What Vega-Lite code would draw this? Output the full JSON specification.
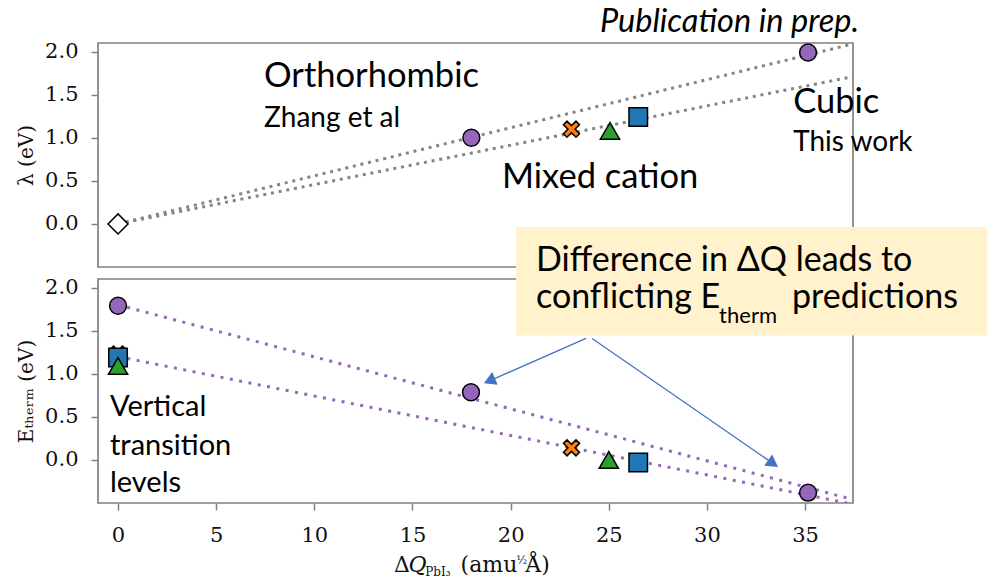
{
  "$schema": "https://vega.github.io/schema/vega-lite/v6.json",
  "autosize": {"type": "pad"},
  "padding": {"left": 15, "top": 4, "right": 0, "bottom": 1},
  "background": "white",
  "spacing": 12,
  "bounds": "flush",
  "config": {
    "view": {"stroke": "#808080", "strokeWidth": 1.7},
    "axis": {
      "labelFont": "DejaVu Serif", "labelFontSize": 21, "labelColor": "#111",
      "tickColor": "#808080", "tickWidth": 1.5, "tickSize": 7, "labelPadding": 13,
      "domain": false, "grid": false,
      "titleFont": "DejaVu Serif", "titleFontSize": 20, "titleFontWeight": "normal",
      "titleColor": "#111", "titlePadding": 8
    },
    "text": {"font": "Lato", "fill": "#000", "align": "left", "baseline": "alphabetic"}
  },
  "datasets": {
    "lam_pts": [
      {"kind": "PbI3", "q": 18.0, "v": 1.0},
      {"kind": "PbI3", "q": 35.15, "v": 1.99},
      {"kind": "mixed-X", "q": 23.1, "v": 1.10},
      {"kind": "mixed-square", "q": 26.5, "v": 1.24},
      {"kind": "mixed-triangle", "q": 25.06, "v": 1.08},
      {"kind": "origin", "q": 0, "v": 0}
    ],
    "eth_pts": [
      {"kind": "PbI3", "q": 0, "v": 1.79},
      {"kind": "PbI3", "q": 17.98, "v": 0.786},
      {"kind": "PbI3", "q": 35.15, "v": -0.38},
      {"kind": "mixed-X", "q": 0, "v": 1.23},
      {"kind": "mixed-X", "q": 23.1, "v": 0.14},
      {"kind": "mixed-square", "q": 0, "v": 1.19},
      {"kind": "mixed-square", "q": 26.5, "v": -0.03},
      {"kind": "mixed-triangle", "q": 0, "v": 1.09},
      {"kind": "mixed-triangle", "q": 25.0, "v": 0.0}
    ]
  },
  "vconcat": [
    {
      "width": 755, "height": 224,
      "encoding": {
        "x": {"field": "q", "type": "quantitative", "scale": {"domain": [-1.02, 37.44], "nice": false, "zero": false}, "axis": null},
        "y": {"field": "v", "type": "quantitative", "scale": {"domain": [-0.5, 2.1], "nice": false, "zero": false},
              "axis": {"values": [0, 0.5, 1, 1.5, 2], "format": ".1f", "title": "λ (eV)"}}
      },
      "layer": [
        {
          "data": {"values": [
            {"fit": "orthorhombic", "q": 0, "v": 0}, {"fit": "orthorhombic", "q": 37.44, "v": 2.09},
            {"fit": "cubic", "q": 0, "v": 0}, {"fit": "cubic", "q": 37.44, "v": 1.71}
          ]},
          "mark": {"type": "line", "color": "#858585", "strokeWidth": 3, "strokeDash": [3, 4.8], "clip": true},
          "encoding": {"detail": {"field": "fit"}}
        },
        {
          "data": {"name": "lam_pts"},
          "mark": {"type": "point", "filled": true, "stroke": "#000", "strokeWidth": 1.5, "opacity": 1},
          "encoding": {
            "shape": {"field": "kind", "type": "nominal", "legend": null, "scale": {
              "domain": ["PbI3", "mixed-X", "mixed-square", "mixed-triangle", "origin"],
              "range": ["circle", "M0.905,-0.509L0.396,0L0.905,0.509L0.509,0.905L0,0.396L-0.509,0.905L-0.905,0.509L-0.396,0L-0.905,-0.509L-0.509,-0.905L0,-0.396L0.509,-0.905Z", "square", "triangle-up", "diamond"]}},
            "fill": {"field": "kind", "type": "nominal", "legend": null, "scale": {
              "domain": ["PbI3", "mixed-X", "mixed-square", "mixed-triangle", "origin"],
              "range": ["#9467bd", "#ff7f0e", "#1f77b4", "#2ca02c", "#ffffff"]}},
            "size": {"field": "kind", "type": "ordinal", "legend": null, "scale": {
              "domain": ["PbI3", "mixed-X", "mixed-square", "mixed-triangle", "origin"],
              "range": [285, 400, 262, 300, 490]}}
          }
        },
        {
          "data": {"values": [
            {"label": "Orthorhombic", "q": 7.44, "v": 1.593},
            {"label": "Cubic", "q": 34.39, "v": 1.291},
            {"label": "Mixed cation", "q": 19.56, "v": 0.419}
          ]},
          "mark": {"type": "text", "fontSize": 34.5},
          "encoding": {"text": {"field": "label"}}
        },
        {
          "data": {"values": [
            {"label": "Zhang et al", "q": 7.44, "v": 1.128},
            {"label": "This work", "q": 34.39, "v": 0.849}
          ]},
          "mark": {"type": "text", "fontSize": 28},
          "encoding": {"text": {"field": "label"}}
        },
        {
          "data": {"values": [{"label": "Publication in prep.", "q": 24.55, "v": 2.233}]},
          "mark": {"type": "text", "fontSize": 32.5, "fontStyle": "italic"},
          "encoding": {"text": {"field": "label"}}
        }
      ]
    },
    {
      "width": 755, "height": 224,
      "encoding": {
        "x": {"field": "q", "type": "quantitative", "scale": {"domain": [-1.02, 37.44], "nice": false, "zero": false},
              "axis": {"values": [0, 5, 10, 15, 20, 25, 30, 35], "title": null, "labelPadding": 14}},
        "y": {"field": "v", "type": "quantitative", "scale": {"domain": [-0.5, 2.1], "nice": false, "zero": false},
              "axis": {"values": [0, 0.5, 1, 1.5, 2], "format": ".1f", "title": "Eₜₕₑᵣₘ (eV)"}}
      },
      "layer": [
        {
          "data": {"values": [
            {"fit": "orthorhombic", "q": 0, "v": 1.8}, {"fit": "orthorhombic", "q": 37.44, "v": -0.46},
            {"fit": "cubic", "q": 0, "v": 1.2}, {"fit": "cubic", "q": 37.44, "v": -0.515}
          ]},
          "mark": {"type": "line", "color": "#9467bd", "strokeWidth": 3, "strokeDash": [3, 6.5], "clip": true},
          "encoding": {"detail": {"field": "fit"}}
        },
        {
          "data": {"name": "eth_pts"},
          "mark": {"type": "point", "filled": true, "stroke": "#000", "strokeWidth": 1.5, "opacity": 1},
          "encoding": {
            "shape": {"field": "kind", "type": "nominal", "legend": null, "scale": {
              "domain": ["PbI3", "mixed-X", "mixed-square", "mixed-triangle", "origin"],
              "range": ["circle", "M0.905,-0.509L0.396,0L0.905,0.509L0.509,0.905L0,0.396L-0.509,0.905L-0.905,0.509L-0.396,0L-0.905,-0.509L-0.509,-0.905L0,-0.396L0.509,-0.905Z", "square", "triangle-up", "diamond"]}},
            "fill": {"field": "kind", "type": "nominal", "legend": null, "scale": {
              "domain": ["PbI3", "mixed-X", "mixed-square", "mixed-triangle", "origin"],
              "range": ["#9467bd", "#ff7f0e", "#1f77b4", "#2ca02c", "#ffffff"]}},
            "size": {"field": "kind", "type": "ordinal", "legend": null, "scale": {
              "domain": ["PbI3", "mixed-X", "mixed-square", "mixed-triangle", "origin"],
              "range": [285, 400, 262, 300, 490]}}
          }
        },
        {
          "data": {"values": [
            {"label": "Vertical", "q": -0.41, "v": 0.509},
            {"label": "transition", "q": -0.41, "v": 0.058},
            {"label": "levels", "q": -0.41, "v": -0.37}
          ]},
          "mark": {"type": "text", "fontSize": 29},
          "encoding": {"text": {"field": "label"}}
        },
        {
          "data": {"values": [{"q": 20.27, "v": 2.705, "q2": 44.27, "v2": 1.445}]},
          "mark": {"type": "rect", "fill": "#FFF2CC", "stroke": null},
          "encoding": {"x2": {"field": "q2"}, "y2": {"field": "v2"}}
        },
        {
          "data": {"values": [
            {"label": "Difference in ΔQ leads to", "q": 21.29, "v": 2.197},
            {"label": "conflicting E", "q": 21.29, "v": 1.769},
            {"label": "predictions", "q": 34.33, "v": 1.769}
          ]},
          "mark": {"type": "text", "fontSize": 34},
          "encoding": {"text": {"field": "label"}}
        },
        {
          "data": {"values": [{"label": "therm", "q": 30.62, "v": 1.595}]},
          "mark": {"type": "text", "fontSize": 22},
          "encoding": {"text": {"field": "label"}}
        },
        {
          "data": {"values": [
            {"arrow": "to orthorhombic", "q": 23.84, "v": 1.41, "q2": 18.92, "v2": 0.918},
            {"arrow": "to cubic", "q": 24.15, "v": 1.41, "q2": 33.37, "v2": -0.042}
          ]},
          "mark": {"type": "rule", "color": "#4472C4", "strokeWidth": 1.3},
          "encoding": {"x2": {"field": "q2"}, "y2": {"field": "v2"}}
        },
        {
          "data": {"values": [{"arrow": "to orthorhombic", "q": 18.92, "v": 0.918}]},
          "mark": {"type": "point", "shape": "triangle-up", "filled": true, "fill": "#4472C4", "opacity": 1, "size": 190, "angle": 246.2, "strokeWidth": 0},
          "encoding": {}
        },
        {
          "data": {"values": [{"arrow": "to cubic", "q": 33.37, "v": -0.042}]},
          "mark": {"type": "point", "shape": "triangle-up", "filled": true, "fill": "#4472C4", "opacity": 1, "size": 190, "angle": 124.7, "strokeWidth": 0},
          "encoding": {}
        },
        {
          "data": {"values": [
            {"label": "Δ", "q": 14.06, "v": -1.30},
            {"label": "(amu", "q": 17.45, "v": -1.30}
          ]},
          "mark": {"type": "text", "font": "DejaVu Serif", "fontSize": 22, "fill": "#111"},
          "encoding": {"text": {"field": "label"}}
        },
        {
          "data": {"values": [{"label": "Å)", "q": 20.75, "v": -1.30}]},
          "mark": {"type": "text", "font": "DejaVu Serif", "fontSize": 22, "fill": "#111"},
          "encoding": {"text": {"field": "label"}}
        },
        {
          "data": {"values": [{"label": "Q", "q": 14.8, "v": -1.30}]},
          "mark": {"type": "text", "font": "DejaVu Serif", "fontStyle": "italic", "fontSize": 22, "fill": "#111"},
          "encoding": {"text": {"field": "label"}}
        },
        {
          "data": {"values": [{"label": "PbI₃", "q": 15.65, "v": -1.345}]},
          "mark": {"type": "text", "font": "DejaVu Serif", "fontSize": 12, "fill": "#111"},
          "encoding": {"text": {"field": "label"}}
        },
        {
          "data": {"values": [{"label": "½", "q": 20.3, "v": -1.205}]},
          "mark": {"type": "text", "font": "DejaVu Serif", "fontSize": 11, "fill": "#111"},
          "encoding": {"text": {"field": "label"}}
        }
      ]
    }
  ]
}
